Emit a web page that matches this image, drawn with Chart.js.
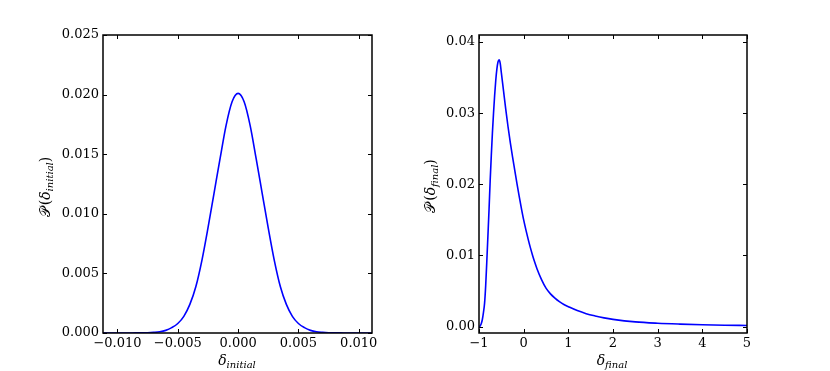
<!DOCTYPE html>
<html>
<head>
<meta charset="utf-8">
<script src="https://cdn.jsdelivr.net/npm/chart.js@4/dist/chart.umd.min.js"></script>
<style>
body { margin: 0; background: #fff; width: 830px; height: 371px; overflow: hidden; position: relative; }
canvas { position: absolute; top: 0; }
#left-chart { left: 0; }
#right-chart { left: 415px; }
</style>
</head>
<body>
<canvas id="left-chart" width="415" height="371"></canvas>
<canvas id="right-chart" width="415" height="371"></canvas>
<script>
// left panel: P(delta_initial)
var initialX = [-0.012, -0.011, -0.0105, -0.010, -0.0095, -0.009, -0.0085, -0.008, -0.0075, -0.007, -0.0065,
    -0.006, -0.0055, -0.005, -0.0045, -0.004, -0.0035, -0.003, -0.0025, -0.002, -0.0015, -0.001, -0.0005,
    0, 0.0005, 0.001, 0.0015, 0.002, 0.0025, 0.003, 0.0035, 0.004, 0.0045, 0.005, 0.0055, 0.006,
    0.0065, 0.007, 0.0075, 0.008, 0.0085, 0.009, 0.0095, 0.010, 0.0105, 0.011, 0.012];
var initialP = [0, 0, 0, 0, 0, 0, 0.00001, 0.00001, 0.00002, 0.00005, 0.0001,
    0.00022, 0.00045, 0.0008, 0.0014, 0.0024, 0.0039, 0.0061, 0.0088, 0.0117, 0.0146, 0.0174, 0.0194,
    0.0201, 0.0194, 0.0174, 0.0146, 0.0117, 0.0088, 0.0061, 0.0039, 0.0024, 0.0014, 0.0008, 0.00045, 0.00022,
    0.0001, 0.00005, 0.00002, 0.00001, 0.00001, 0, 0, 0, 0, 0, 0];
var initialXTicks = [-0.010, -0.005, 0, 0.005, 0.010];
var initialXLabels = ['\u22120.010', '\u22120.005', '0.000', '0.005', '0.010'];
var initialYTicks = [0, 0.005, 0.010, 0.015, 0.020, 0.025];
var initialYLabels = ['0.000', '0.005', '0.010', '0.015', '0.020', '0.025'];
var initialXRange = [-0.0112, 0.0111];
var initialYRange = [0, 0.025];

// right panel: P(delta_final)
var finalX = [-1, -0.975, -0.95, -0.925, -0.9, -0.875, -0.85, -0.825, -0.8, -0.775, -0.75, -0.725, -0.7,
    -0.675, -0.65, -0.625, -0.6, -0.575, -0.55, -0.525, -0.5, -0.45, -0.4, -0.35, -0.3, -0.25, -0.2,
    -0.15, -0.1, -0.05, 0, 0.05, 0.1, 0.15, 0.2, 0.25, 0.3, 0.4, 0.5, 0.6, 0.7, 0.8, 0.9, 1.0,
    1.2, 1.4, 1.6, 1.8, 2.0, 2.5, 3.0, 3.5, 4.0, 4.5, 5.0];
var finalP = [0, 0.0001, 0.0004, 0.0010, 0.0020, 0.0033, 0.0058, 0.0092, 0.0128, 0.0165, 0.0205, 0.0240, 0.0272,
    0.0300, 0.0325, 0.0346, 0.0362, 0.0372, 0.0375, 0.0370, 0.0357, 0.0331, 0.0305, 0.0281, 0.0259, 0.0239, 0.0220,
    0.0201, 0.0183, 0.0166, 0.0150, 0.0136, 0.0123, 0.0111, 0.0100, 0.0090, 0.0081, 0.0066, 0.0054, 0.0046, 0.0040,
    0.0035, 0.0031, 0.0028,
    0.00225, 0.00182, 0.00150, 0.00123, 0.00102, 0.00066, 0.00047, 0.00035, 0.00026, 0.0002, 0.00016];
var finalXTicks = [-1, 0, 1, 2, 3, 4, 5];
var finalXLabels = ['\u22121', '0', '1', '2', '3', '4', '5'];
var finalYTicks = [0, 0.01, 0.02, 0.03, 0.04];
var finalYLabels = ['0.00', '0.01', '0.02', '0.03', '0.04'];
var finalXRange = [-1, 5];
var finalYRange = [-0.0009, 0.041];

Chart.defaults.color = '#000';
Chart.defaults.font.family = "'DejaVu Serif', serif";
Chart.defaults.font.size = 13;

var SERIF = "'DejaVu Serif', serif";

// draws a label like P(delta_sub) piece by piece
function drawMath(ctx, parts) {
    var total = 0;
    parts.forEach(function(p) {
        ctx.font = p.font;
        p.w = ctx.measureText(p.t).width + (p.gap || 0);
        total += p.w;
    });
    var x = -total / 2;
    parts.forEach(function(p) {
        ctx.font = p.font;
        ctx.fillText(p.t, x, p.dy || 0);
        x += p.w;
    });
}

function labelParts(sub, withP) {
    var big = "italic 14px " + SERIF;
    var small = "italic 10px " + SERIF;
    var upright = "14px " + SERIF;
    var parts = [];
    if (withP) {
        parts.push({t: '\uD835\uDCAB', font: "14px 'DejaVu Sans'", gap: 2});
        parts.push({t: '(', font: upright});
    }
    parts.push({t: '\u03B4', font: big});
    parts.push({t: sub, font: small, dy: 3});
    if (withP) {
        parts.push({t: ')', font: upright});
    }
    return parts;
}

var framePlugin = {
    id: 'frame',
    afterDraw: function(chart, args, opts) {
        var ctx = chart.ctx;
        var a = chart.chartArea;
        var xs = chart.scales.x, ys = chart.scales.y;
        ctx.save();
        ctx.strokeStyle = '#000';
        ctx.lineWidth = 1;
        // inward tick marks on all four sides
        xs.ticks.forEach(function(t) {
            var px = Math.round(xs.getPixelForValue(t.value)) + 0.5;
            ctx.beginPath();
            ctx.moveTo(px, a.bottom); ctx.lineTo(px, a.bottom - 4);
            ctx.moveTo(px, a.top); ctx.lineTo(px, a.top + 4);
            ctx.stroke();
        });
        ys.ticks.forEach(function(t) {
            var py = Math.round(ys.getPixelForValue(t.value)) + 0.5;
            ctx.beginPath();
            ctx.moveTo(a.left, py); ctx.lineTo(a.left + 4, py);
            ctx.moveTo(a.right, py); ctx.lineTo(a.right - 4, py);
            ctx.stroke();
        });
        ctx.lineWidth = 1.5;
        ctx.strokeRect(a.left, a.top, a.right - a.left, a.bottom - a.top);

        ctx.fillStyle = '#000';
        ctx.textBaseline = 'alphabetic';
        ctx.save();
        ctx.translate(opts.xTitleX, opts.xTitleY);
        drawMath(ctx, labelParts(opts.sub, false));
        ctx.restore();
        ctx.save();
        ctx.translate(opts.yTitleX, opts.yTitleY);
        ctx.rotate(-Math.PI / 2);
        drawMath(ctx, labelParts(opts.sub, true));
        ctx.restore();
        ctx.restore();
    }
};

function makePanel(id, xs, ys, xRange, yRange, xTicks, xLabels, yTicks, yLabels, yWidth, padRight, titles) {
    var points = xs.map(function(x, i) { return {x: x, y: ys[i]}; });
    return new Chart(document.getElementById(id), {
        type: 'scatter',
        data: {
            datasets: [{
                data: points,
                showLine: true,
                borderColor: '#0000ff',
                borderWidth: 1.6,
                pointRadius: 0,
                cubicInterpolationMode: 'monotone'
            }]
        },
        options: {
            responsive: false,
            animation: false,
            events: [],
            layout: {padding: {top: 35, right: padRight, left: 0, bottom: 0}},
            plugins: {
                legend: {display: false},
                tooltip: {enabled: false},
                frame: titles
            },
            scales: {
                x: {
                    type: 'linear',
                    min: xRange[0],
                    max: xRange[1],
                    grid: {display: false, drawTicks: false},
                    border: {display: false},
                    afterBuildTicks: function(s) { s.ticks = xTicks.map(function(v) { return {value: v}; }); },
                    afterFit: function(s) { s.height = 38; },
                    ticks: {
                        padding: 3,
                        maxRotation: 0,
                        autoSkip: false,
                        callback: function(v) { return xLabels[xTicks.indexOf(v)]; }
                    }
                },
                y: {
                    type: 'linear',
                    min: yRange[0],
                    max: yRange[1],
                    grid: {display: false, drawTicks: false},
                    border: {display: false},
                    afterBuildTicks: function(s) { s.ticks = yTicks.map(function(v) { return {value: v}; }); },
                    afterFit: function(s) { s.width = yWidth; },
                    ticks: {
                        padding: 4,
                        autoSkip: false,
                        callback: function(v) { return yLabels[yTicks.indexOf(v)]; }
                    }
                }
            }
        },
        plugins: [framePlugin]
    });
}

makePanel('left-chart', initialX, initialP, initialXRange, initialYRange,
    initialXTicks, initialXLabels, initialYTicks, initialYLabels, 103, 43,
    {sub: 'initial', xTitleX: 237, xTitleY: 365, yTitleX: 50, yTitleY: 187});

makePanel('right-chart', finalX, finalP, finalXRange, finalYRange,
    finalXTicks, finalXLabels, finalYTicks, finalYLabels, 64, 83,
    {sub: 'final', xTitleX: 197, xTitleY: 365, yTitleX: 20, yTitleY: 186});
</script>
</body>
</html>
